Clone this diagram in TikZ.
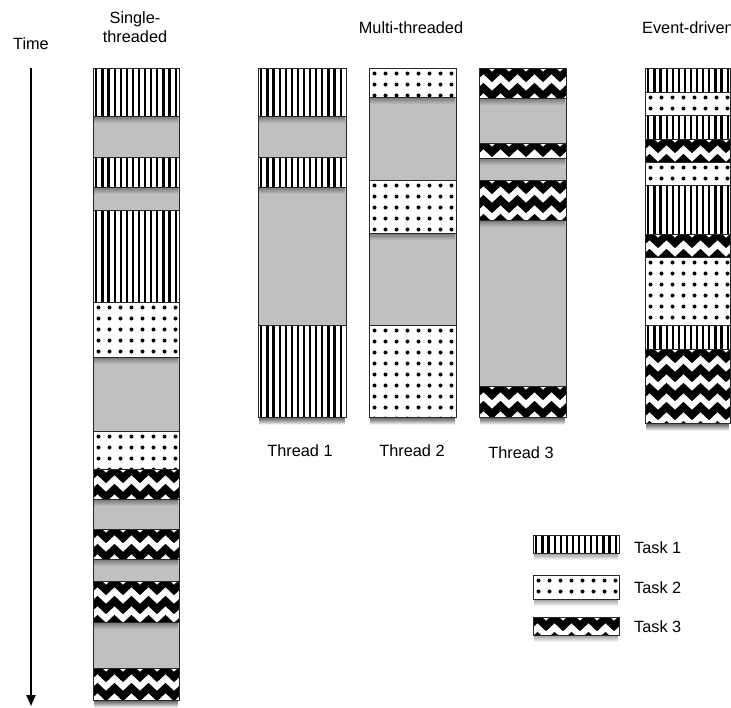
\documentclass[tikz,border=0pt]{standalone}
\usepackage{fontspec}
\setmainfont{Liberation Sans}
\usetikzlibrary{arrows.meta,fadings}
\definecolor{idlegray}{RGB}{192,192,192}
\definecolor{edge}{RGB}{40,40,40}
\tikzset{
  blkborder/.style={draw=edge,line width=1pt},
  stripeline/.style={line width=2.2pt,black},
  zzline/.style={line width=7.5pt,black,line join=miter},
  dotfill/.style={fill=black},
  shadowfill/.style={fill=black,opacity=0.4,path fading=south},
  lbl/.style={inner sep=0pt,font=\fontsize{16.3}{19}\selectfont},
}
% x1 y1 x2 y2
\newcommand{\blkshadow}[4]{\fill[shadowfill] (#1+1,#4) rectangle (#3-1,#4+7);}
\newcommand{\stripesblk}[4]{%
  \begin{scope}
    \clip (#1,#2) rectangle (#3,#4);
    \fill[white] (#1,#2) rectangle (#3,#4);
    \foreach \k in {0,...,14} {\draw[stripeline] (#1+3.3+\k*6.1,#2) -- (#1+3.3+\k*6.1,#4);}
  \end{scope}
  \blkshadow{#1}{#2}{#3}{#4}
  \draw[blkborder] (#1,#2) rectangle (#3,#4);}
\newcommand{\dotsblk}[4]{%
  \begin{scope}
    \clip (#1,#2) rectangle (#3,#4);
    \fill[white] (#1,#2) rectangle (#3,#4);
    \foreach \i in {0,...,7} {\foreach \j in {0,...,8} {\fill[dotfill] (#1+5.5+\i*11,#2+5.5+\j*11) circle (2);}}
  \end{scope}
  \blkshadow{#1}{#2}{#3}{#4}
  \draw[blkborder] (#1,#2) rectangle (#3,#4);}
\newcommand{\zigblk}[4]{%
  \begin{scope}
    \clip (#1,#2) rectangle (#3,#4);
    \fill[white] (#1,#2) rectangle (#3,#4);
    \foreach \r in {0,...,4} {\draw[zzline] (#1-4,#2+9+\r*19) \foreach \i in {1,...,6} { -- ++(8.5,-8) -- ++(8.5,8) };}
  \end{scope}
  \blkshadow{#1}{#2}{#3}{#4}
  \draw[blkborder] (#1,#2) rectangle (#3,#4);}
% column background x1 y1 x2 y2
\newcommand{\colbg}[4]{%
  \fill[shadowfill] (#1+1,#4) rectangle (#3-1,#4+8);
  \fill[idlegray] (#1,#2) rectangle (#3,#4);}
\newcommand{\colframe}[4]{\draw[blkborder] (#1,#2) rectangle (#3,#4);}
\begin{document}
\begin{tikzpicture}[x=1pt,y=-1pt]
\useasboundingbox (0,0) rectangle (731,707);
% Time axis
\node[lbl,anchor=base] (time) at (31,49) {Time};
\coordinate (tstart) at (31,68);
\coordinate (tend) at (31,706);
\draw[line width=2pt,-{Triangle[length=11pt,width=9pt]}] (tstart) -- (tend);
% headings
\node[lbl,anchor=base] (single1) at (135,23.5) {Single-};
\node[lbl,anchor=base] (single2) at (135,42.5) {threaded};
\node[lbl,anchor=base] (multi) at (411,33) {Multi-threaded};
\node[lbl,anchor=base west] (event) at (642,33) {Event-driven};
% single-threaded column
\colbg{93}{68}{179}{700}
\stripesblk{93}{68}{179}{116}
\stripesblk{93}{157}{179}{187}
\stripesblk{93}{210}{179}{302}
\dotsblk{93}{302}{179}{357}
\dotsblk{93}{431}{179}{469}
\zigblk{93}{469}{179}{499}
\zigblk{93}{529}{179}{559}
\zigblk{93}{581}{179}{622}
\zigblk{93}{668}{179}{700}
\colframe{93}{68}{179}{700}
% thread 1
\colbg{258}{68}{346}{417}
\stripesblk{258}{68}{346}{116}
\stripesblk{258}{157}{346}{187}
\stripesblk{258}{325}{346}{417}
\colframe{258}{68}{346}{417}
% thread 2
\colbg{369}{68}{456}{417}
\dotsblk{369}{68}{456}{97}
\dotsblk{369}{180}{456}{233}
\dotsblk{369}{325}{456}{417}
\colframe{369}{68}{456}{417}
% thread 3
\colbg{479}{68}{566}{417}
\zigblk{479}{68}{566}{98}
\zigblk{479}{143}{566}{158}
\zigblk{479}{180}{566}{220}
\zigblk{479}{386}{566}{417}
\colframe{479}{68}{566}{417}
% event-driven
\colbg{645}{68}{730}{423}
\stripesblk{645}{68}{730}{92}
\dotsblk{645}{92}{730}{115}
\stripesblk{645}{115}{730}{139}
\zigblk{645}{139}{730}{162}
\dotsblk{645}{162}{730}{185}
\stripesblk{645}{185}{730}{234}
\zigblk{645}{234}{730}{257}
\dotsblk{645}{257}{730}{325}
\stripesblk{645}{325}{730}{349}
\zigblk{645}{349}{730}{423}
\colframe{645}{68}{730}{423}
% thread labels
\node[lbl,anchor=base] (th1) at (300,456) {Thread 1};
\node[lbl,anchor=base] (th2) at (412,456) {Thread 2};
\node[lbl,anchor=base] (th3) at (521,458) {Thread 3};
% legend
\stripesblk{533}{535}{619}{553}
\dotsblk{533}{575}{619}{599}
\zigblk{533}{617}{619}{635}
\node[lbl,anchor=base west] (task1) at (634,553) {Task 1};
\node[lbl,anchor=base west] (task2) at (634,593) {Task 2};
\node[lbl,anchor=base west] (task3) at (634,632) {Task 3};
\end{tikzpicture}
\end{document}
